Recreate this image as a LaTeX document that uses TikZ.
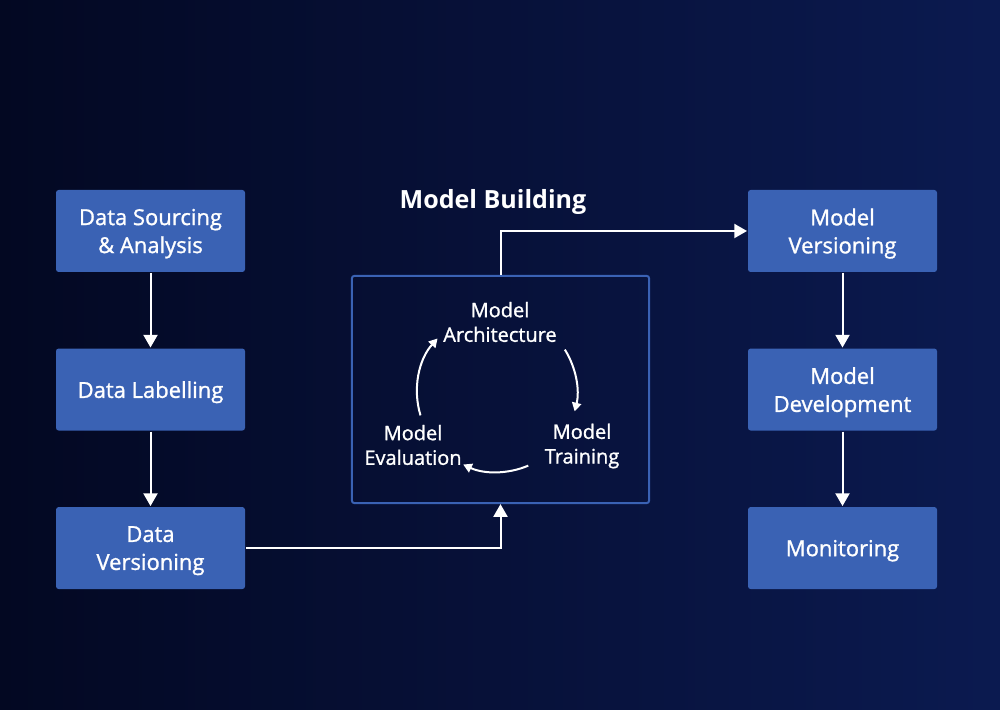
\documentclass[tikz,border=0pt]{standalone}
\usepackage{fontspec}
\setmainfont{Open Sans}
\newfontfamily\semib[FakeBold=1.2]{Open Sans}
\usetikzlibrary{arrows.meta,positioning}
\definecolor{bgleft}{HTML}{030822}
\definecolor{bgmid}{HTML}{050E30}
\definecolor{bgright}{HTML}{0B1A50}
\definecolor{boxblue}{HTML}{3A62B4}

\begin{document}
\begin{tikzpicture}[x=0.75pt,y=0.75pt,->,>={Triangle[width=10.5pt,length=9.5pt]},line width=1.5pt,
  node distance=118.9pt,
  main node/.style={rectangle,rounded corners=2pt,fill=boxblue,draw=none,text=white,minimum width=141.75pt,
    minimum height=61.5pt,align=center,text depth=0pt,font=\semib\fontsize{16.5}{21}\selectfont},
  cycle node/.style={text=white,align=center,font=\semib\fontsize{15}{18.5}\selectfont},
  cycle arrow/.style={white,line width=1.5pt,-{Triangle[width=7pt,length=6.5pt]}}]

 % background
 \shade[-,left color=bgleft,middle color=bgmid,right color=bgright] (0,0) rectangle (1000,710);
 \useasboundingbox (0,0) rectangle (1000,710);

 \node[main node] (src) at (150.5,479) {Data Sourcing\\\& Analysis};
 \node[main node] (lab) [below of=src] {Data Labelling};
 \node[main node] (dver) [below of=lab] {Data\\Versioning};
 \node[main node] (mver) at (842.5,479) {Model\\Versioning};
 \node[main node] (mdev) [below of=mver] {Model\\Development};
 \node[main node] (mon) [below of=mdev] {Monitoring};

 % model building block
 \node[draw=boxblue,line width=1.5pt,rounded corners=2pt,minimum width=223pt,minimum height=170.5pt] (frame) at (500.5,320.5) {};
 \node[text=white,font=\bfseries\fontsize{18.8}{22}\selectfont] (title) at (493,508) {Model Building};
 \node[cycle node] (arch) at (500,388) {Model\\Architecture};
 \node[cycle node] (train) at (582,264) {Model\\Training};
 \node[cycle node] (eval) at (413,265) {Model\\Evaluation};
 \coordinate (cc) at (497,318);

 \draw[cycle arrow] ([shift={(32:60pt)}]cc) arc[start angle=32,end angle=-14,radius=60pt];
 \draw[cycle arrow] ([shift={(-67:60pt)}]cc) arc[start angle=-67,end angle=-115,radius=60pt];
 \draw[cycle arrow] ([shift={(197:60pt)}]cc) arc[start angle=197,end angle=138,radius=60pt];

 \draw[white] (src) -- (lab);
 \draw[white] (lab) -- (dver);
 \draw[white] (dver.east) -| (frame.south);
 \draw[white] (frame.north) |- (mver.west);
 \draw[white] (mver) -- (mdev);
 \draw[white] (mdev) -- (mon);

\end{tikzpicture}
\end{document}
